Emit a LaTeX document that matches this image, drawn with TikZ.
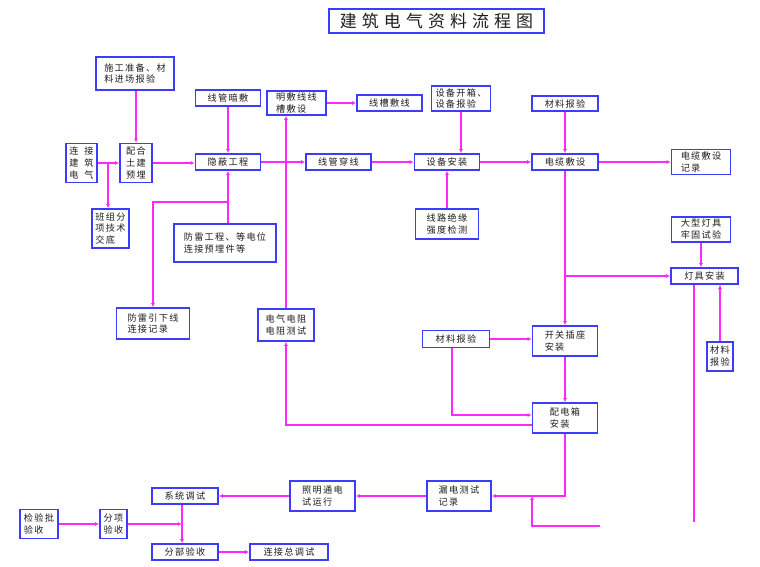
\documentclass[tikz,border=0pt]{standalone}
\usepackage{fontspec}
\setmainfont{Noto Sans CJK SC}[LetterSpace=14]
\usetikzlibrary{arrows.meta}
\definecolor{boxblue}{RGB}{60,60,250}
\definecolor{lnmag}{RGB}{255,40,255}
\definecolor{txt}{RGB}{30,30,30}
\tikzset{
  bx/.style 2 args={draw=boxblue, line width=1.7bp, fill=white, minimum width=#1bp, minimum height=#2bp,
     align=left, inner sep=0pt, text=txt, font=\fontsize{9.2}{12}\selectfont},
  ln/.style={draw=lnmag, line width=1.6bp},
  arr/.style={ln, -{Latex[length=4bp,width=4bp]}}
}
\begin{document}
\begin{tikzpicture}[x=1bp,y=-1bp]
\useasboundingbox[fill=white] (0,0) rectangle (760,567);
% title
\node[draw=boxblue, line width=1.5bp, minimum width=215bp, minimum height=24bp, inner sep=0pt, text=txt,
      font=\fontsize{17}{20}\selectfont\addfontfeature{LetterSpace=30}] (title) at (436.5,21) {建筑电气资料流程图};
% nodes
\node[bx={78}{33}] (sgzb) at (135,73.5) {施工准备、材\\料进场报验};
\node[bx={65}{16}] (xgaf) at (228,98) {线管暗敷};
\node[bx={59}{24}] (mfxc) at (296.5,103) {明敷线线\\槽敷设};
\node[bx={65}{16}] (xcfx) at (389.5,103) {线槽敷线};
\node[bx={59}{25}] (sbkx) at (461,98.5) {设备开箱、\\设备报验};
\node[bx={66}{15}] (clby1) at (565,103.5) {材料报验};
\node[bx={31}{39}] (ljjz) at (81.5,163) {连\hspace{6pt}接\\建\hspace{6pt}筑\\电\hspace{6pt}气};
\node[bx={32}{39}] (phtj) at (136,163) {配合\\土建\\预埋};
\node[bx={65}{16}] (ybgc) at (228,162) {隐蔽工程};
\node[bx={65}{16}] (xgcx) at (338.5,162) {线管穿线};
\node[bx={65}{16}] (sbaz) at (447,162) {设备安装};
\node[bx={66}{16}] (dlfs) at (565,162) {电缆敷设};
\node[bx={59}{25}] (dlfsjl) at (701,162) {电缆敷设\\记录};
\node[bx={37}{39}] (bzfx) at (110.5,228.5) {班组分\\项技术\\交底};
\node[bx={102}{38}] (flgc) at (225,243) {防雷工程、等电位\\连接预埋件等};
\node[bx={63}{30}] (xljy) at (447,224) {线路绝缘\\强度检测};
\node[bx={59}{25}] (dxdj) at (701,229.5) {大型灯具\\牢固试验};
\node[bx={67}{16}] (djaz) at (704.5,276) {灯具安装};
\node[bx={73}{31}] (flyx) at (153,323.5) {防雷引下线\\连接记录};
\node[bx={56}{32}] (dqdz) at (286,325) {电气电阻\\电阻测试};
\node[bx={67}{17}] (clby2) at (456,339) {材料报验};
\node[bx={65}{30}] (kgcz) at (565,341) {开关插座\\安装};
\node[bx={26}{29}] (clby3) at (720,356.5) {材料\\报验};
\node[bx={65}{30}] (pdx) at (565,418) {配电箱\\安装};
\node[bx={64}{30}] (ldcs) at (459,496) {漏电测试\\记录};
\node[bx={65}{30}] (zmtd) at (322.5,496) {照明通电\\试运行};
\node[bx={66}{16}] (xtts) at (185,496) {系统调试};
\node[bx={38}{29}] (jypys) at (39,524) {检验批\\验收};
\node[bx={27}{29}] (fxys) at (113.5,524) {分项\\验收};
\node[bx={66}{16}] (fbys) at (185,552) {分部验收};
\node[bx={78}{16}] (ljzts) at (289,552) {连接总调试};
% helper coordinates
\coordinate (b1) at (108,163);
\coordinate (b2) at (228,202);
\coordinate (e1) at (694,522);
\coordinate (f1) at (532,526);
\coordinate (f2) at (600,526);
\coordinate (v182) at ([xshift=-3bp]xtts.south);
% connectors
\draw[arr] (sgzb.south -| phtj.north) -- (phtj.north);
\draw[arr] (ljjz.east) -- (phtj.west);
\draw[arr] (b1) -- (b1 |- bzfx.north);
\draw[arr] (phtj.east) -- (phtj.east -| ybgc.west);
\draw[arr] (xgaf.south) -- (ybgc.north);
\draw[arr] (ybgc.east) -- (xgcx.west);
\draw[arr] (flgc.north -| ybgc.south) -- (ybgc.south);
\draw[arr] (b2) -| (flyx.north);
\draw[arr] (dqdz.north) -- (dqdz.north |- mfxc.south);
\draw[arr] (mfxc.east) -- (xcfx.west);
\draw[arr] (xgcx.east) -- (sbaz.west);
\draw[arr] (sbkx.south) -- (sbkx.south |- sbaz.north);
\draw[arr] (xljy.north) -- (sbaz.south);
\draw[arr] (sbaz.east) -- (dlfs.west);
\draw[arr] (clby1.south) -- (dlfs.north);
\draw[arr] (dlfs.east) -- (dlfs.east -| dlfsjl.west);
\draw[arr] (dlfs.south) -- (kgcz.north);
\draw[arr] (dlfs.south |- djaz.west) -- (djaz.west);
\draw[arr] (dxdj.south) -- (dxdj.south |- djaz.north);
\draw[arr] (clby3.north) -- (clby3.north |- djaz.south);
\draw[ln] (djaz.south -| e1) -- (e1);
\draw[arr] (clby2.east) -- (clby2.east -| kgcz.west);
\draw[arr] ([xshift=-4bp]clby2.south) |- ([yshift=3bp]pdx.west);
\draw[arr] (kgcz.south) -- (pdx.north);
\draw[arr] (pdx.south) |- (ldcs.east);
\draw[arr] ([yshift=-7bp]pdx.west) -| (dqdz.south);
\draw[arr] (f2) -- (f1) -- (f1 |- ldcs.east);
\draw[arr] (ldcs.west) -- (zmtd.east);
\draw[arr] (zmtd.west) -- (xtts.east);
\draw[arr] (v182) -- (v182 |- fbys.north);
\draw[arr] (jypys.east) -- (fxys.west);
\draw[arr] (fxys.east) -- (fxys.east -| v182);
\draw[arr] (fbys.east) -- (ljzts.west);
\end{tikzpicture}
\end{document}
